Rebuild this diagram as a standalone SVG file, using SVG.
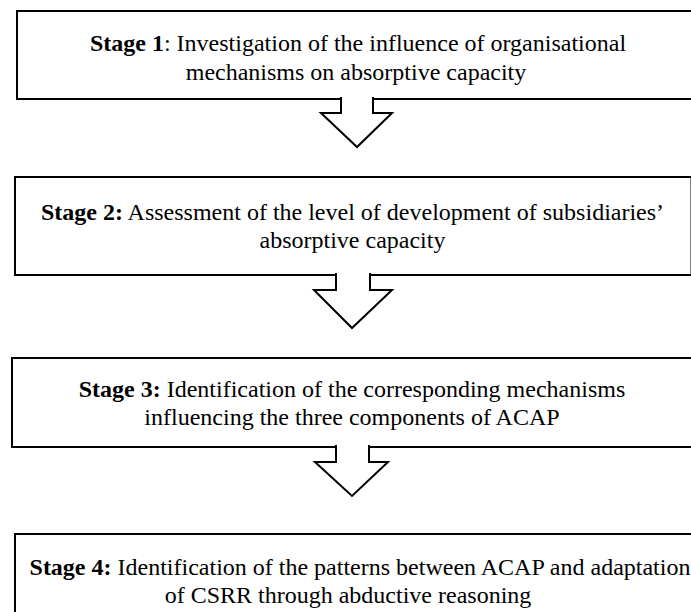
<svg xmlns="http://www.w3.org/2000/svg" width="691" height="612" viewBox="0 0 691 612">
  <style>
    .box { fill: #ffffff; stroke: #000000; stroke-width: 2; }
    .flow { fill: #ffffff; stroke: #000000; stroke-width: 2; stroke-linejoin: miter; }
    .label { font-family: "Liberation Serif", "Times New Roman", serif; font-size: 24px; fill: #000000; text-anchor: middle; }
    .label .hd { font-weight: bold; }
  </style>
  <rect width="691" height="612" fill="#ffffff"/>

  <!-- Stage boxes -->
  <g id="stage1">
    <rect class="box" x="17" y="11" width="700" height="88"/>
    <text class="label" x="358" y="51"><tspan class="hd">Stage 1</tspan>: Investigation of the influence of organisational</text>
    <text class="label" x="356" y="80">mechanisms on absorptive capacity</text>
  </g>

  <g id="stage2">
    <rect class="box" x="15" y="177" width="676.5" height="98"/>
    <text class="label" x="352.5" y="220"><tspan class="hd">Stage 2:</tspan> Assessment of the level of development of subsidiaries’</text>
    <text class="label" x="352.5" y="248">absorptive capacity</text>
  </g>

  <g id="stage3">
    <rect class="box" x="12" y="358" width="680" height="89"/>
    <text class="label" x="352" y="397"><tspan class="hd">Stage 3:</tspan> Identification of the corresponding mechanisms</text>
    <text class="label" x="352" y="425">influencing the three components of ACAP</text>
  </g>

  <g id="stage4">
    <rect class="box" x="15" y="534" width="700" height="100"/>
    <text class="label" x="360" y="575"><tspan class="hd">Stage 4:</tspan> Identification of the patterns between ACAP and adaptation</text>
    <text class="label" x="348" y="603">of CSRR through abductive reasoning</text>
  </g>

  <!-- Block arrows leading from each stage to the next -->
  <g id="connectors">
    <path class="flow" d="M341,97 V113 H321 L357,147 L392,113 H373 V97"/>
    <path class="flow" d="M336,273 V290 H314 L352,328 L392,290 H370 V273"/>
    <path class="flow" d="M336,445 V462 H315 L352,496 L388,462 H369 V445"/>
  </g>
</svg>
